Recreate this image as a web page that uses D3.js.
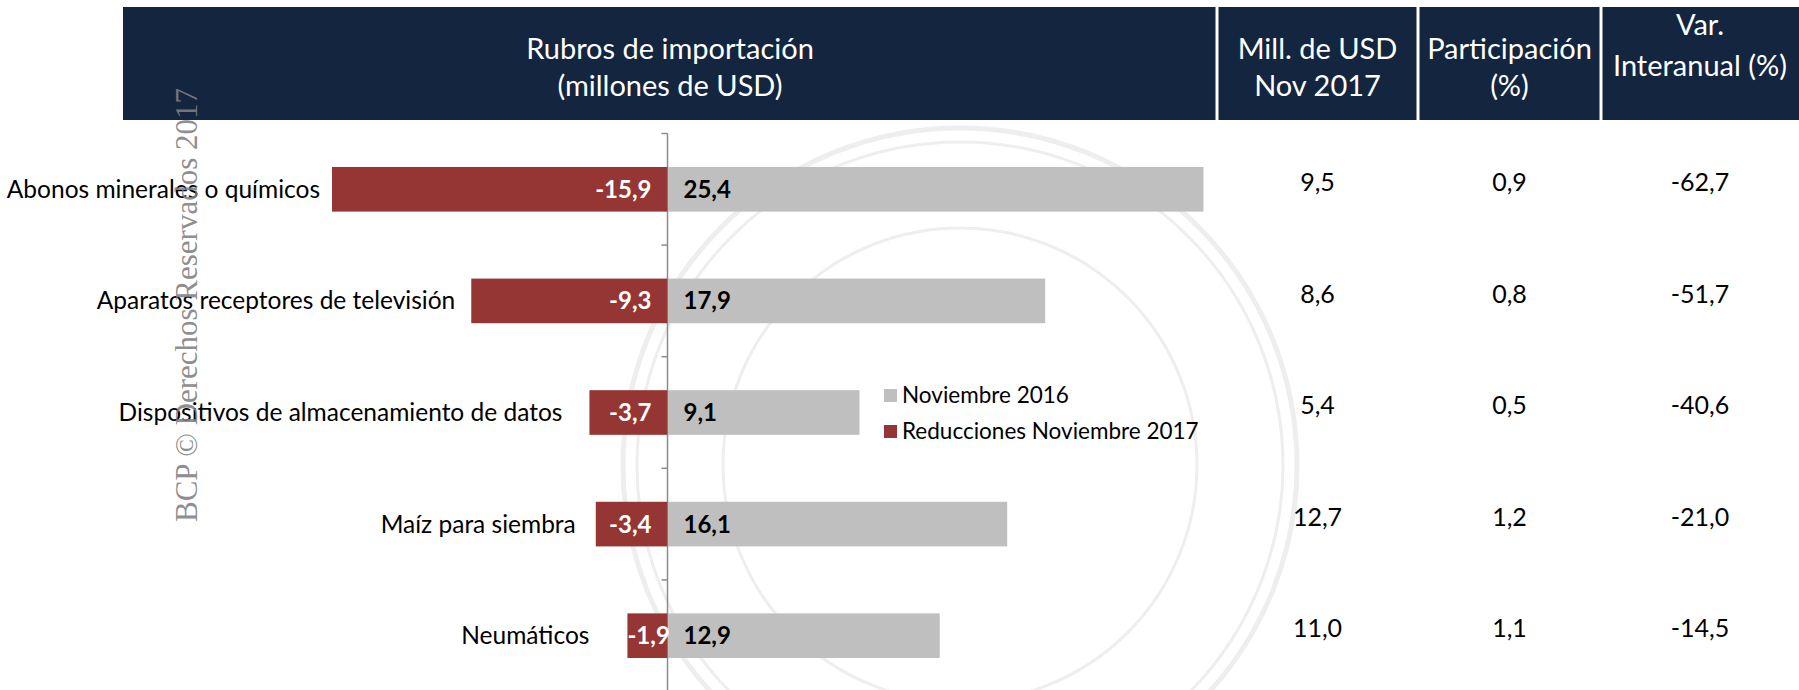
<!DOCTYPE html>
<html>
<head>
<meta charset="utf-8">
<script src="https://cdn.jsdelivr.net/npm/d3@7"></script>
<style>
body { margin: 0; background: #fff; }
svg { display: block; font-family: Lato, "Open Sans", sans-serif; }
</style>
</head>
<body>
<svg class="theSvg" width="1799" height="690"></svg>
<script>
// datos
var categories = ["Abonos minerales o químicos", "Aparatos receptores de televisión", "Dispositivos de almacenamiento de datos", "Maíz para siembra", "Neumáticos"];
var nov2016 = [25.4, 17.9, 9.1, 16.1, 12.9];
var reducciones = [-15.9, -9.3, -3.7, -3.4, -1.9];
var millNov2017 = [9.5, 8.6, 5.4, 12.7, 11.0];
var participacion = [0.9, 0.8, 0.5, 1.2, 1.1];
var varInteranual = [-62.7, -51.7, -40.6, -21.0, -14.5];
var seriesNames = ["Noviembre 2016", "Reducciones Noviembre 2017"];
var headerTitles = [["Rubros de importación", "(millones de USD)"], ["Mill. de USD", "Nov 2017"], ["Participación", "(%)"], ["Var.", "Interanual (%)"]];
var watermark = "BCP © Derechos Reservados 2017";

// layout
var navy = "#13253f", red = "#963634", grey = "#bfbfbf";
var colEdges = [123, 1217, 1418, 1601, 1799];
var labelGap = [12, 16, 27, 20, 38];

var fmt = d3.formatLocale({decimal: ",", thousands: ".", grouping: [3], currency: ["", ""], minus: "-"}).format(".1f");

var svg = d3.select(".theSvg");

var x = d3.scaleLinear().domain([-20, 30]).range([667.5 - 20 * 21.1, 667.5 + 30 * 21.1]);
var y = d3.scaleBand().domain(categories).range([133.5, 691.5]).paddingInner(0.6).paddingOuter(0.3);
var step = y.step();

// sello de fondo (muy tenue)
var seal = svg.append("g").attr("fill", "none").attr("stroke", "#eeeeee");
[337, 323, 237].forEach(function(r, i){
	seal.append("circle")
		.attr("cx", 960)
		.attr("cy", 465)
		.attr("r", r)
		.attr("stroke-width", i == 0 ? 5 : 3);
});

// cabecera
var header = svg.append("g").attr("class", "header");
header.selectAll("rect")
	.data(headerTitles)
	.enter()
	.append("rect")
	.attr("x", function(d, i){ return colEdges[i] + (i > 0 ? 1.5 : 0); })
	.attr("y", 7)
	.attr("width", function(d, i){ return colEdges[i + 1] - colEdges[i] - (i > 0 ? 1.5 : 0) - (i < 3 ? 1.5 : 0); })
	.attr("height", 113)
	.attr("fill", navy);

header.selectAll("text")
	.data(headerTitles)
	.enter()
	.append("text")
	.attr("fill", "#fff")
	.attr("font-size", 29)
	.attr("text-anchor", "middle")
	.each(function(d, i){
		var cx = (colEdges[i] + colEdges[i + 1]) / 2;
		var ys = i == 3 ? [25, 66] : [49, 86];
		d3.select(this).selectAll("tspan")
			.data(d)
			.enter()
			.append("tspan")
			.attr("x", cx)
			.attr("y", function(t, j){ return ys[j]; })
			.attr("dy", "0.35em")
			.text(function(t){ return t; });
	});

// eje
var axis = svg.append("g")
	.attr("transform", "translate(" + x(0) + ",0)")
	.call(d3.axisLeft(y).tickSize(0).tickFormat(""));
axis.select(".domain").attr("stroke", "#8c8c8c").attr("stroke-width", 1.5)
	.attr("d", "M0," + y.range()[0] + "V690");
axis.selectAll(".tick").remove();
axis.selectAll(".sep")
	.data(categories)
	.enter()
	.append("line")
	.attr("x1", -6)
	.attr("x2", 0)
	.attr("y1", function(d){ return y(d) + y.bandwidth() / 2 - step / 2; })
	.attr("y2", function(d){ return y(d) + y.bandwidth() / 2 - step / 2; })
	.attr("stroke", "#8c8c8c")
	.attr("stroke-width", 1.5);

// barras
var rows = svg.append("g").selectAll(".row")
	.data(categories)
	.enter()
	.append("g")
	.attr("class", "row");

rows.append("rect")
	.attr("x", x(0))
	.attr("y", function(d){ return y(d); })
	.attr("width", function(d, i){ return x(nov2016[i]) - x(0); })
	.attr("height", y.bandwidth())
	.attr("fill", grey);

rows.append("rect")
	.attr("x", function(d, i){ return x(reducciones[i]); })
	.attr("y", function(d){ return y(d); })
	.attr("width", function(d, i){ return x(0) - x(reducciones[i]); })
	.attr("height", y.bandwidth())
	.attr("fill", red);

rows.append("text")
	.attr("x", x(0) + 16)
	.attr("y", function(d){ return y(d) + y.bandwidth() / 2; })
	.attr("dy", "0.35em")
	.attr("font-size", 24)
	.attr("font-weight", "bold")
	.attr("fill", "#000")
	.text(function(d, i){ return fmt(nov2016[i]); });

rows.append("text")
	.attr("y", function(d){ return y(d) + y.bandwidth() / 2; })
	.attr("dy", "0.35em")
	.attr("text-anchor", "end")
	.attr("font-size", 24)
	.attr("font-weight", "bold")
	.attr("fill", "#fff")
	.text(function(d, i){ return fmt(reducciones[i]); })
	.attr("x", function(d, i){
		// si no cabe dentro de la barra, se corre hacia el eje
		var w = this.getComputedTextLength();
		return Math.max(x(0) - 16, x(reducciones[i]) + w);
	});

rows.append("text")
	.attr("x", function(d, i){ return x(reducciones[i]) - labelGap[i]; })
	.attr("y", function(d){ return y(d) + y.bandwidth() / 2; })
	.attr("dy", "0.35em")
	.attr("text-anchor", "end")
	.attr("font-size", 24.5)
	.attr("fill", "#000")
	.text(function(d){ return d; });

// tabla
var tableCols = [millNov2017, participacion, varInteranual];
tableCols.forEach(function(col, c){
	var cx = (colEdges[c + 1] + colEdges[c + 2]) / 2;
	svg.append("g").selectAll("text")
		.data(col)
		.enter()
		.append("text")
		.attr("x", cx)
		.attr("y", function(d, i){ return y(categories[i]) + y.bandwidth() / 2 - 7; })
		.attr("dy", "0.35em")
		.attr("text-anchor", "middle")
		.attr("font-size", 25)
		.attr("fill", "#000")
		.text(function(d){ return fmt(d); });
});

// leyenda
var legend = svg.append("g").attr("transform", "translate(884,389)");
var legendItems = legend.selectAll("g")
	.data(seriesNames)
	.enter()
	.append("g")
	.attr("transform", function(d, i){ return "translate(0," + (i * 36) + ")"; });
legendItems.append("rect")
	.attr("width", 13)
	.attr("height", 13)
	.attr("fill", function(d, i){ return i == 0 ? grey : red; });
legendItems.append("text")
	.attr("x", 18)
	.attr("y", 6.5)
	.attr("dy", "0.35em")
	.attr("font-size", 22.5)
	.attr("fill", "#000")
	.text(function(d){ return d; });

// marca de agua
svg.append("text")
	.attr("transform", "translate(197,522) rotate(-90)")
	.attr("font-family", "'Liberation Serif', 'DejaVu Serif', serif")
	.attr("font-size", 31)
	.attr("fill", "#808080")
	.attr("fill-opacity", 0.9)
	.text(watermark);
</script>
</body>
</html>
